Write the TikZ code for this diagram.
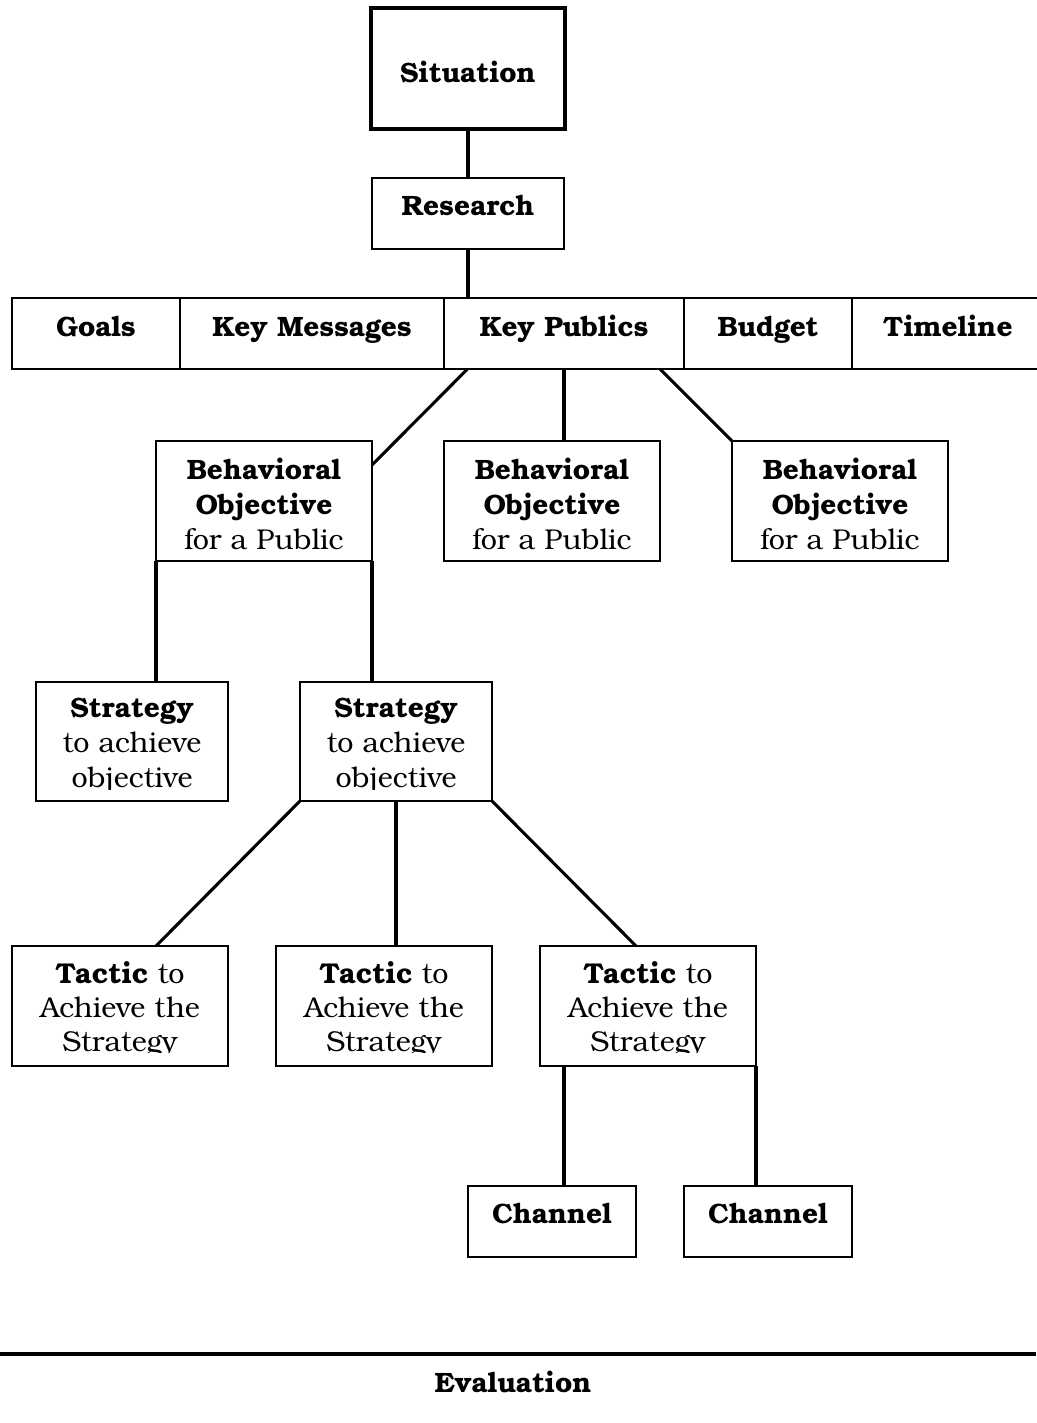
\documentclass[tikz,border=0pt]{standalone}
\usepackage{fontspec}
\setmainfont{TeX Gyre Bonum}
\usetikzlibrary{calc}
\begin{document}
\begin{tikzpicture}[x=0.75pt,y=-0.75pt,
  bx/.style={draw, line width=1.1pt, inner sep=0pt, outer sep=0pt, anchor=north west},
  sz/.style n args={2}{minimum width=#1*0.75pt, minimum height=#2*0.75pt},
  con/.style={line width=2.3pt},
  tb/.style={font=\fontsize{21}{26}\selectfont\bfseries, anchor=base, inner sep=0pt},
  tr/.style={font=\fontsize{21.5}{26}\selectfont, anchor=base, inner sep=0pt}]
\useasboundingbox (0,0) rectangle (1036,1423);
% boxes
\node[bx, line width=2.3pt, sz={194}{121}] (sit) at (371,8) {};
\node[bx, sz={192}{71}] (res) at (372,178) {};
\node[bx, sz={168}{71}] (goal) at (12,298) {};
\node[bx, sz={264}{71}] (km) at (180,298) {};
\node[bx, sz={240}{71}] (kp) at (444,298) {};
\node[bx, sz={168}{71}] (bud) at (684,298) {};
\node[bx, sz={194}{71}] (tl) at (852,298) {};
\node[bx, sz={216}{120}] (bo1) at (156,441) {};
\node[bx, sz={216}{120}] (bo2) at (444,441) {};
\node[bx, sz={216}{120}] (bo3) at (732,441) {};
\node[bx, sz={192}{119}] (st1) at (36,682) {};
\node[bx, sz={192}{119}] (st2) at (300,682) {};
\node[bx, sz={216}{120}] (ta1) at (12,946) {};
\node[bx, sz={216}{120}] (ta2) at (276,946) {};
\node[bx, sz={216}{120}] (ta3) at (540,946) {};
\node[bx, sz={168}{71}] (ch1) at (468,1186) {};
\node[bx, sz={168}{71}] (ch2) at (684,1186) {};
% texts
\node[tb] (tsit) at (468,83) {Situation};
\node[tb] (tres) at (468,216) {Research};
\node[tb] (tgoal) at (96,336) {Goals};
\node[tb] (tkm) at (312,336) {Key Messages};
\node[tb] (tkp) at (564,336) {Key Publics};
\node[tb] (tbud) at (768,336) {Budget};
\node[tb] (ttl) at (948,336) {Timeline};
\foreach \b/\x in {bo1/264,bo2/552,bo3/840}{
  \node[tb] (\b a) at (\x,479) {Behavioral};
  \node[tb] (\b b) at (\x,514) {Objective};
  \node[tr] (\b c) at (\x,549) {for a Public};
}
\foreach \b/\x in {st1/132,st2/396}{
  \begin{scope}
  \clip ($(\b.north west)$) rectangle ($(\b.east |- 0,789)$);
  \node[tb] (\b a) at (\x,717) {Strategy};
  \node[tr] (\b b) at (\x,752) {to achieve};
  \node[tr] (\b c) at (\x,787) {objective};
  \end{scope}
}
\foreach \b/\x in {ta1/120,ta2/384,ta3/648}{
  \begin{scope}
  \clip ($(\b.north west)$) rectangle ($(\b.east |- 0,1052)$);
  \node[tr] (\b a) at (\x,983) {\textbf{Tactic} to};
  \node[tr] (\b b) at (\x,1017) {Achieve the};
  \node[tr] (\b c) at (\x,1051) {Strategy};
  \end{scope}
}
\node[tb] (tch1) at (552,1223) {Channel};
\node[tb] (tch2) at (768,1223) {Channel};
\node[tb] (teval) at (513,1392) {Evaluation};
% connectors
\coordinate (kpl) at ($(kp.south west)+(23.5,0)$);
\coordinate (kpr) at ($(kp.south east)+(-24,0)$);
\coordinate (bo1r) at ($(bo1.north east)+(0,24)$);
\coordinate (ta3l) at ($(ta3.south west)+(24,0)$);
\draw[con] (sit.south) -- (res.north);
\draw[con] (res.south) -- (res.south |- kp.north);
\draw[con] (kpl) -- (bo1r);
\draw[con] (kp.south) -- (kp.south |- bo2.north);
\draw[con] (kpr) -- (bo3.north west);
\draw[con] (bo1.south west) -- (bo1.south west |- st1.north);
\draw[con] (bo1.south east) -- (bo1.south east |- st2.north);
\draw[con] (st2.south west) -- (bo1.south west |- ta1.north);
\draw[con] (st2.south) -- (st2.south |- ta2.north);
\draw[con] (st2.south east) -- (ch1.north east |- ta3.north);
\draw[con] (ta3l) -- (ta3l |- ch1.north);
\draw[con] (ta3.south east) -- (ta3.south east |- ch2.north);
\coordinate (evl) at (0,1354);
\coordinate (evr) at (1036,1354);
\draw[con] (evl) -- (evr);
\end{tikzpicture}
\end{document}
